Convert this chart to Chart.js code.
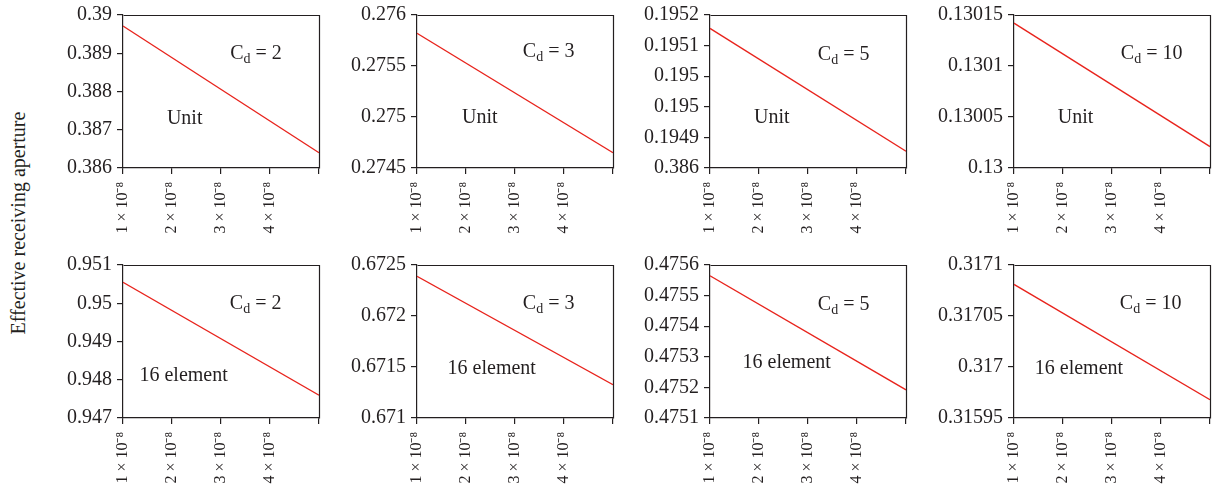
<!DOCTYPE html>
<html><head><meta charset="utf-8">
<script src="https://cdn.jsdelivr.net/npm/chart.js@4"></script>
<style>
html,body{margin:0;padding:0;background:#fff;width:1215px;height:492px;overflow:hidden;position:relative;}
canvas{position:absolute;}
#ytitle{position:absolute;left:18px;top:223px;transform:translate(-50%,-50%) rotate(-90deg);font:20px 'Liberation Serif','Times New Roman',serif;white-space:nowrap;color:#231f20;}
</style></head><body>
<div id="ytitle">Effective receiving aperture</div>
<script>
// ---------- data ----------
const xValues = [1e-8, 5e-8];
const xTickValues = [1e-8, 2e-8, 3e-8, 4e-8, 5e-8];
const xTickLabels = ['1 × 10⁻⁸', '2 × 10⁻⁸', '3 × 10⁻⁸', '4 × 10⁻⁸', ''];
const cdValues = [2, 3, 5, 10];
const arrayTypes = ['Unit', '16 element'];

// series values (read at x = 1e-8 and x = 5e-8)
const unitCd2  = [0.38971, 0.38640];
const unitCd3  = [0.27582, 0.27465];
const unitCd5  = [0.195165, 0.194844];
const unitCd10 = [0.130142, 0.130021];
const elemCd2  = [0.95055, 0.947594];
const elemCd3  = [0.67239, 0.671327];
const elemCd5  = [0.475565, 0.475192];
const elemCd10 = [0.317081, 0.316968];

// y tick values and labels (bottom to top)
const yTicksUnitCd2  = [0.386, 0.387, 0.388, 0.389, 0.39];
const yLabelsUnitCd2 = ['0.386', '0.387', '0.388', '0.389', '0.39'];
const yTicksUnitCd3  = [0.2745, 0.275, 0.2755, 0.276];
const yLabelsUnitCd3 = ['0.2745', '0.275', '0.2755', '0.276'];
const yTicksUnitCd5  = [0.1948, 0.19488, 0.19496, 0.19504, 0.19512, 0.1952];
const yLabelsUnitCd5 = ['0.386', '0.1949', '0.195', '0.195', '0.1951', '0.1952'];
const yTicksUnitCd10  = [0.13, 0.13005, 0.1301, 0.13015];
const yLabelsUnitCd10 = ['0.13', '0.13005', '0.1301', '0.13015'];
const yTicksElemCd2  = [0.947, 0.948, 0.949, 0.95, 0.951];
const yLabelsElemCd2 = ['0.947', '0.948', '0.949', '0.95', '0.951'];
const yTicksElemCd3  = [0.671, 0.6715, 0.672, 0.6725];
const yLabelsElemCd3 = ['0.671', '0.6715', '0.672', '0.6725'];
const yTicksElemCd5  = [0.4751, 0.4752, 0.4753, 0.4754, 0.4755, 0.4756];
const yLabelsElemCd5 = ['0.4751', '0.4752', '0.4753', '0.4754', '0.4755', '0.4756'];
const yTicksElemCd10  = [0.31695, 0.317, 0.31705, 0.3171];
const yLabelsElemCd10 = ['0.31595', '0.317', '0.31705', '0.3171'];

// ---------- layout / style ----------
const FAMILY = "'Liberation Serif','Times New Roman',serif";
const INK = '#231f20';
const LINE = '#e8231c';
const colLeft = [123, 417, 710, 1014];
const rowTop = [15, 265];
const PLOT_W = 196, PLOT_H = 153;
const YW = 80, XH = 80, PT = 15, PR = 5;
// annotation positions as fractions of plot area [typeLabelX, typeLabelY, cdX, cdY]
const notePos = [
  [0.224, 0.68, 0.547, 0.25], [0.23, 0.67, 0.54, 0.24], [0.225, 0.67, 0.55, 0.26], [0.223, 0.67, 0.545, 0.25],
  [0.084, 0.725, 0.545, 0.25], [0.156, 0.675, 0.54, 0.25], [0.166, 0.64, 0.55, 0.26], [0.106, 0.675, 0.54, 0.25]
];

const panels = [
  {v: unitCd2, t: yTicksUnitCd2, l: yLabelsUnitCd2, cd: cdValues[0], type: arrayTypes[0]},
  {v: unitCd3, t: yTicksUnitCd3, l: yLabelsUnitCd3, cd: cdValues[1], type: arrayTypes[0]},
  {v: unitCd5, t: yTicksUnitCd5, l: yLabelsUnitCd5, cd: cdValues[2], type: arrayTypes[0]},
  {v: unitCd10, t: yTicksUnitCd10, l: yLabelsUnitCd10, cd: cdValues[3], type: arrayTypes[0]},
  {v: elemCd2, t: yTicksElemCd2, l: yLabelsElemCd2, cd: cdValues[0], type: arrayTypes[1]},
  {v: elemCd3, t: yTicksElemCd3, l: yLabelsElemCd3, cd: cdValues[1], type: arrayTypes[1]},
  {v: elemCd5, t: yTicksElemCd5, l: yLabelsElemCd5, cd: cdValues[2], type: arrayTypes[1]},
  {v: elemCd10, t: yTicksElemCd10, l: yLabelsElemCd10, cd: cdValues[3], type: arrayTypes[1]}
];

const framePlugin = {
  id: 'frame',
  afterDraw(chart) {
    const a = chart.chartArea, ctx = chart.ctx;
    ctx.save();
    ctx.strokeStyle = INK; ctx.lineWidth = 1.2;
    ctx.beginPath();
    ctx.moveTo(Math.round(a.left) + 0.5, Math.round(a.top) + 0.5);
    ctx.lineTo(Math.round(a.right) + 0.5, Math.round(a.top) + 0.5);
    ctx.lineTo(Math.round(a.right) + 0.5, Math.round(a.bottom) + 0.5);
    ctx.stroke();
    ctx.restore();
  }
};

const notePlugin = {
  id: 'note',
  afterDraw(chart, args, opts) {
    const a = chart.chartArea, ctx = chart.ctx;
    const w = a.right - a.left, h = a.bottom - a.top;
    const p = opts.pos;
    ctx.save();
    ctx.fillStyle = INK;
    ctx.textBaseline = 'middle';
    ctx.textAlign = 'left';
    ctx.font = '20px ' + FAMILY;
    ctx.fillText(opts.type, a.left + p[0] * w, a.top + p[1] * h);
    let x = a.left + p[2] * w; const y = a.top + p[3] * h;
    ctx.fillText('C', x, y); x += ctx.measureText('C').width;
    ctx.font = '14px ' + FAMILY;
    ctx.fillText('d', x, y + 6); x += ctx.measureText('d').width;
    ctx.font = '20px ' + FAMILY;
    ctx.fillText(' = ' + opts.cd, x, y);
    ctx.restore();
  }
};

function zeroPad(s) { s.paddingLeft = 0; s.paddingRight = 0; s.paddingTop = 0; s.paddingBottom = 0; }

panels.forEach((p, i) => {
  const row = Math.floor(i / 4), col = i % 4;
  const cv = document.createElement('canvas');
  const W = YW + PLOT_W + PR, H = PT + PLOT_H + XH;
  cv.width = W; cv.height = H;
  cv.style.width = W + 'px'; cv.style.height = H + 'px';
  cv.style.left = (colLeft[col] - YW) + 'px';
  cv.style.top = (rowTop[row] - PT) + 'px';
  document.body.appendChild(cv);
  new Chart(cv, {
    type: 'line',
    data: { datasets: [{
      data: xValues.map((x, k) => ({x: x, y: p.v[k]})),
      borderColor: LINE, borderWidth: 1.3, pointRadius: 0, tension: 0, fill: false
    }]},
    options: {
      responsive: false, animation: false, devicePixelRatio: 1,
      layout: { padding: {left: 0, top: PT, right: PR, bottom: 0} },
      plugins: { legend: {display: false}, tooltip: {enabled: false},
                 note: {pos: notePos[i], type: p.type, cd: p.cd} },
      scales: {
        x: {
          type: 'linear', min: xTickValues[0], max: xTickValues[xTickValues.length - 1],
          afterBuildTicks: s => { s.ticks = xTickValues.map(v => ({value: v})); },
          afterFit: s => { s.height = XH; zeroPad(s); },
          ticks: { autoSkip: false, minRotation: 90, maxRotation: 90, padding: 8, color: INK,
                   font: {family: FAMILY, size: 16}, callback: (v, k) => xTickLabels[k] },
          grid: { drawOnChartArea: false, drawTicks: true, tickLength: 6, color: INK, lineWidth: 1.2 },
          border: { display: true, color: INK, width: 1.2 }
        },
        y: {
          type: 'linear', min: p.t[0], max: p.t[p.t.length - 1],
          afterBuildTicks: s => { s.ticks = p.t.map(v => ({value: v})); },
          afterFit: s => { s.width = YW; zeroPad(s); },
          ticks: { autoSkip: false, padding: 5, color: INK,
                   font: {family: FAMILY, size: 20}, callback: (v, k) => p.l[k] },
          grid: { drawOnChartArea: false, drawTicks: true, tickLength: 6, color: INK, lineWidth: 1.2 },
          border: { display: true, color: INK, width: 1.2 }
        }
      }
    },
    plugins: [framePlugin, notePlugin]
  });
});
</script>
</body></html>
